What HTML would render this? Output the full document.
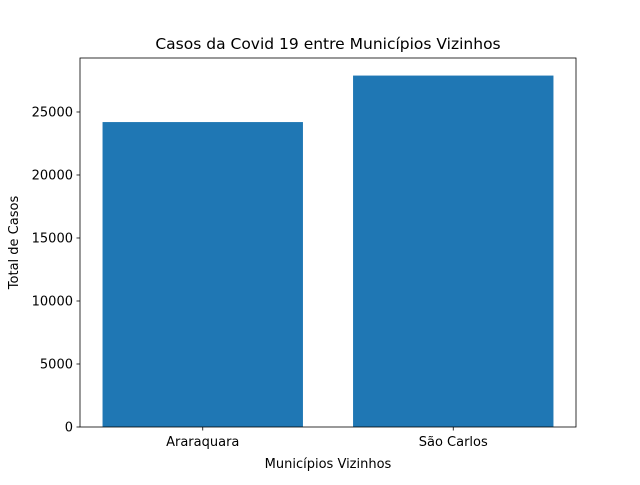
<!DOCTYPE html>
<html><head><meta charset="utf-8"><style>
body{margin:0;background:#fff}
svg text{font-family:"DejaVu Sans","Liberation Sans",sans-serif;fill:#000}
</style></head><body>
<svg id="chart" width="640" height="480"></svg>
<script>
const categories = ["Araraquara", "São Carlos"];
const values = [24200, 27890];
const yTicks = [0, 5000, 10000, 15000, 20000, 25000];

const svg = document.getElementById('chart');
const NS = 'http://www.w3.org/2000/svg';
const L = 80, R = 576, T = 58, B = 427;
const maxV = Math.max(...values) * 1.05;
const xMin = -0.4 - 0.09, xMax = (categories.length - 1) + 0.4 + 0.09;
const xs = v => L + (v - xMin) / (xMax - xMin) * (R - L);
const ys = v => B - v / maxV * (B - T);
function el(tag, attrs, text) {
  const e = document.createElementNS(NS, tag);
  for (const k in attrs) e.setAttribute(k, attrs[k]);
  if (text !== undefined) e.textContent = text;
  svg.appendChild(e);
  return e;
}
values.forEach((v, i) => {
  const r = el('rect', {x: xs(i - 0.4), y: ys(v), width: xs(i + 0.4) - xs(i - 0.4), height: B - ys(v), fill: '#1f77b4'});
  
  
  const t = el('line', {x1: xs(i), x2: xs(i), y1: B, y2: B + 3.5, stroke: '#000', 'stroke-width': 0.8});
  
  
  const lb = el('text', {x: xs(i), y: B + 19, 'text-anchor': 'middle', 'font-size': 13}, categories[i]);
  
  
});
yTicks.forEach(v => {
  const t = el('line', {x1: L - 3.5, x2: L, y1: ys(v), y2: ys(v), stroke: '#000', 'stroke-width': 0.8});
  
  
  const lb = el('text', {x: L - 7, y: ys(v) + 4.5, 'text-anchor': 'end', 'font-size': 13}, String(v));
  
  
});
const frame = el('rect', {x: L, y: T, width: R - L, height: B - T, fill: 'none', stroke: '#000', 'stroke-width': 0.8});


const title = el('text', {x: (L + R) / 2, y: 49, 'text-anchor': 'middle', 'font-size': 15.5}, 'Casos da Covid 19 entre Municípios Vizinhos');


const xt = el('text', {x: (L + R) / 2, y: 468, 'text-anchor': 'middle', 'font-size': 13}, 'Municípios Vizinhos');


const yt = el('text', {x: 0, y: 0, 'text-anchor': 'middle', 'font-size': 13, transform: 'translate(18,' + ((T + B) / 2) + ') rotate(-90)'}, 'Total de Casos');


</script>
</body></html>
